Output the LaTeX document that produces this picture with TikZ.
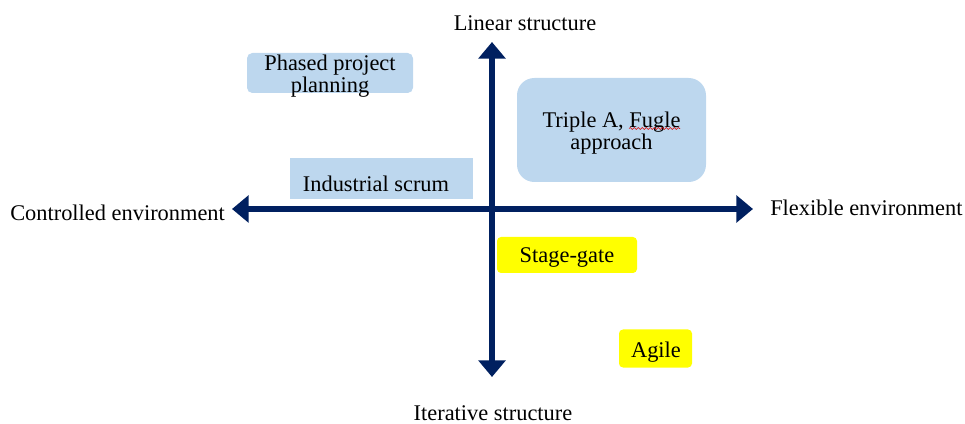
\documentclass[tikz,border=0pt]{standalone}
\usepackage{fontspec}
\setmainfont{Liberation Serif}
\usetikzlibrary{arrows.meta,decorations.pathmorphing}
\definecolor{axisblue}{HTML}{002060}
\definecolor{boxblue}{HTML}{BDD7EE}
\definecolor{boxyellow}{HTML}{FFFF00}
\begin{document}
\begin{tikzpicture}[x=0.75pt,y=-0.75pt,
  lbl/.style={font=\fontsize{16.8}{16.5}\selectfont, inner sep=0pt, align=center},
  panel/.style={draw=none, inner sep=0pt},
  bluepanel/.style={panel, fill=boxblue},
  yellowpanel/.style={panel, fill=boxyellow, rounded corners=3pt},
  axisline/.style={draw=axisblue, line width=5.2pt,
    {Triangle[width=20pt,length=12.5pt]}-{Triangle[width=20pt,length=12.5pt]}},
  spellmark/.style={draw=red!85!black, line width=0.45pt,
    decorate, decoration={snake, amplitude=0.7pt, segment length=3pt}}]
\useasboundingbox (0,0) rectangle (965,424);

% axis end points
\coordinate (ytop) at (492,42);
\coordinate (ybot) at (492,377);
\coordinate (xleft) at (232,209);
\coordinate (xright) at (753,209);

% method panels
\node[bluepanel, rounded corners=4pt, minimum width=166*0.75pt, minimum height=40*0.75pt] (phasedbox) at (330,73) {};
\node[bluepanel, minimum width=183*0.75pt, minimum height=41*0.75pt] (scrumbox) at (381.5,178.5) {};
\node[bluepanel, rounded corners=13pt, minimum width=189*0.75pt, minimum height=104*0.75pt] (triplebox) at (611.5,130) {};
\node[yellowpanel, minimum width=140*0.75pt, minimum height=36*0.75pt] (stagebox) at (567,255) {};
\node[yellowpanel, minimum width=73*0.75pt, minimum height=38*0.75pt] (agilebox) at (655.5,348.5) {};

% axes
\draw[axisline] (ybot) -- (ytop);
\draw[axisline] (xleft) -- (xright);

% axis labels
\node[lbl] (linear) at (525,23) {Linear structure};
\node[lbl] (iterative) at (493,413) {Iterative structure};
\node[lbl, anchor=west] (controlled) at (10,213) {Controlled environment};
\node[lbl, anchor=west] (flexible) at (770,208) {Flexible environment};

% panel texts
\node[lbl] (phased) at (330,76.5) {Phased project\\planning};
\node[lbl] (scrum) at (376,183.5) {Industrial scrum};
\node[lbl] (triple) at (611.5,133.5) {Triple A, Fugle\\approach};
\node[lbl] (stage) at (567,258) {Stage-gate};
\node[lbl] (agile) at (656,352) {Agile};

% wavy underline beneath "Fugle"
\coordinate (wavyA) at (629,128.5);
\coordinate (wavyB) at (680,128.5);
\draw[spellmark] (wavyA) -- (wavyB);
\end{tikzpicture}
\end{document}
